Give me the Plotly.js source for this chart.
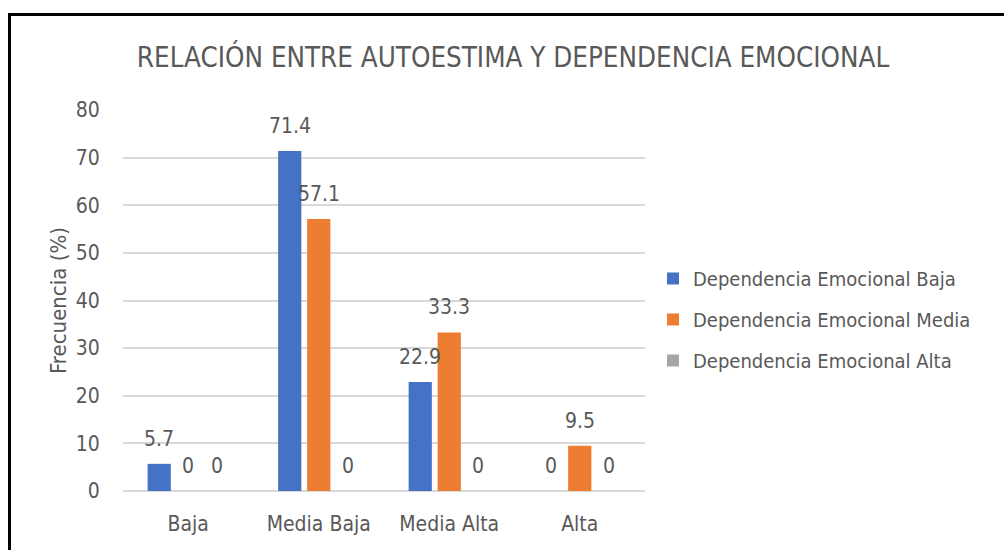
<!DOCTYPE html>
<html>
<head>
<meta charset="utf-8">
<script src="https://cdn.plot.ly/plotly-3.0.1.min.js"></script>
<style>
  html, body { margin: 0; padding: 0; background: #fff; }
  #wrap { position: relative; width: 1004px; height: 550px; overflow: hidden; }
  #chart { position: absolute; left: 0; top: 0; width: 1004px; height: 550px; }
  #frame { position: absolute; left: 8px; top: 13px; width: 1100px; height: 600px;
           border-left: 3px solid #000; border-top: 3px solid #000; pointer-events: none; }
</style>
</head>
<body>
<div id="wrap">
  <div id="chart"></div>
  <div id="frame"></div>
</div>
<script>
const categories = ["Baja", "Media Baja", "Media Alta", "Alta"];
const seriesNames = ["Dependencia Emocional Baja", "Dependencia Emocional Media", "Dependencia Emocional Alta"];
const depBaja  = [5.7, 71.4, 22.9, 0];
const depMedia = [0, 57.1, 33.3, 9.5];
const depAlta  = [0, 0, 0, 0];
const colors = ["#4472C4", "#ED7D31", "#A5A5A5"];
const yTicks = [0, 10, 20, 30, 40, 50, 60, 70, 80];

const FONT = "'DejaVu Sans Condensed', 'DejaVu Sans', sans-serif";
const TXT = "#595959";

const W = 1004, H = 550;
const M = { l: 123, r: 359, t: 110, b: 59 };
const BARGAP = 0.333;

const values = [depBaja, depMedia, depAlta];
const traces = values.map((v, i) => ({
  type: "bar",
  name: seriesNames[i],
  x: categories,
  y: v,
  marker: { color: colors[i] },
  legendgroup: "g" + i,
  hoverinfo: "x+y+name"
}));

// data labels placed above each bar (offset to its slot within the group)
const plotW = W - M.l - M.r;
const slotW = plotW / categories.length * (1 - BARGAP) / values.length;
const annotations = [];
values.forEach((v, i) => {
  v.forEach((val, j) => {
    annotations.push({
      x: categories[j], y: val, xref: "x", yref: "y",
      text: String(val), showarrow: false,
      xanchor: "center", yanchor: "bottom",
      xshift: (i - (values.length - 1) / 2) * slotW,
      yshift: 11,
      font: { family: FONT, size: 21, color: TXT }
    });
  });
});

const layout = {
  width: W, height: H,
  margin: M,
  paper_bgcolor: "#fff", plot_bgcolor: "#fff",
  font: { family: FONT, color: TXT, size: 21 },
  title: {
    text: "RELACIÓN ENTRE AUTOESTIMA Y DEPENDENCIA EMOCIONAL",
    font: { family: FONT, size: 27.5, color: TXT },
    x: 513 / 1004, xanchor: "center", xref: "container",
    y: 1 - 57 / 550, yanchor: "middle", yref: "container"
  },
  barmode: "group",
  bargap: BARGAP,
  bargroupgap: 0.2,
  xaxis: {
    type: "category",
    showgrid: false, zeroline: false, showline: false,
    ticks: "outside", ticklen: 14, tickcolor: "rgba(0,0,0,0)",
    tickfont: { family: FONT, size: 21, color: TXT }
  },
  yaxis: {
    range: [0, 80],
    tickvals: yTicks,
    showgrid: true, gridcolor: "#D9D9D9", gridwidth: 2,
    zeroline: true, zerolinecolor: "#D9D9D9", zerolinewidth: 2,
    showline: false,
    ticks: "outside", ticklen: 18, tickcolor: "rgba(0,0,0,0)",
    tickfont: { family: FONT, size: 21, color: TXT },
    title: { text: "Frecuencia (%)", font: { family: FONT, size: 22, color: TXT }, standoff: 3 }
  },
  annotations: annotations,
  showlegend: true,
  legend: {
    x: 1.0153, xanchor: "left",
    y: 0.609, yanchor: "top",
    font: { family: FONT, size: 20, color: TXT },
    tracegroupgap: 12,
    traceorder: "grouped",
    bgcolor: "rgba(0,0,0,0)"
  }
};

Plotly.newPlot("chart", traces, layout, { displayModeBar: false, staticPlot: true });
</script>
</body>
</html>
